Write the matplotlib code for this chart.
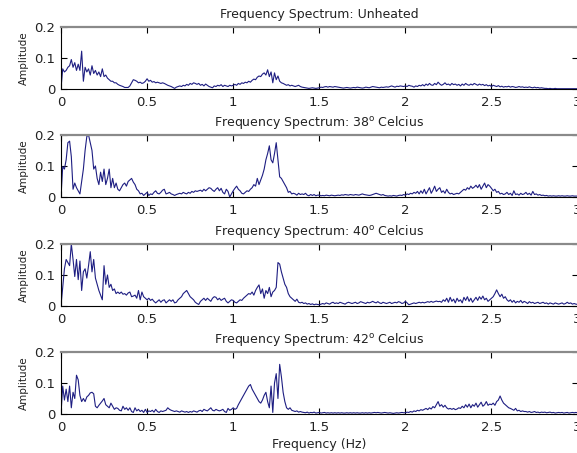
import numpy as np
import matplotlib
matplotlib.use("Agg")
import matplotlib.pyplot as plt

plt.rcParams["font.family"] = ["DejaVu Sans"]
plt.rcParams["mathtext.fontset"] = "dejavusans"

# frequency grid, 0 .. 3 Hz in 0.01 Hz steps
freq = np.round(np.arange(301) * 0.01, 2)

titles = [
    "Frequency Spectrum: Unheated",
    r"Frequency Spectrum: 38$^{\mathrm{o}}$ Celcius",
    r"Frequency Spectrum: 40$^{\mathrm{o}}$ Celcius",
    r"Frequency Spectrum: 42$^{\mathrm{o}}$ Celcius",
]

amp_unheated = [
    0.000, 0.065, 0.055, 0.060, 0.070, 0.075, 0.095, 0.070, 0.085, 0.060,
    0.080, 0.060, 0.122, 0.025, 0.070, 0.055, 0.065, 0.045, 0.075, 0.050,
    0.060, 0.045, 0.055, 0.040, 0.065, 0.040, 0.045, 0.035, 0.030, 0.025,
    0.025, 0.020, 0.020, 0.015, 0.012, 0.010, 0.008, 0.005, 0.005, 0.005,
    0.010, 0.020, 0.030, 0.028, 0.025, 0.020, 0.022, 0.018, 0.020, 0.025,
    0.033, 0.025, 0.028, 0.022, 0.024, 0.020, 0.022, 0.020, 0.018, 0.020,
    0.018, 0.015, 0.012, 0.010, 0.008, 0.005, 0.002, 0.006, 0.008, 0.010,
    0.008, 0.012, 0.010, 0.015, 0.012, 0.018, 0.015, 0.020, 0.018, 0.015,
    0.018, 0.012, 0.015, 0.010, 0.016, 0.012, 0.008, 0.006, 0.004, 0.010,
    0.008, 0.012, 0.010, 0.014, 0.008, 0.012, 0.010, 0.008, 0.012, 0.010,
    0.012, 0.015, 0.012, 0.018, 0.015, 0.020, 0.018, 0.022, 0.020, 0.025,
    0.022, 0.028, 0.032, 0.030, 0.038, 0.042, 0.040, 0.048, 0.052, 0.045,
    0.062, 0.040, 0.055, 0.020, 0.052, 0.030, 0.042, 0.025, 0.020, 0.018,
    0.015, 0.012, 0.014, 0.010, 0.012, 0.010, 0.008, 0.010, 0.012, 0.008,
    0.006, 0.005, 0.004, 0.003, 0.002, 0.003, 0.004, 0.003, 0.002, 0.003,
    0.004, 0.006, 0.005, 0.007, 0.008, 0.006, 0.008, 0.007, 0.006, 0.008,
    0.007, 0.006, 0.005, 0.004, 0.003, 0.004, 0.005, 0.004, 0.003, 0.004,
    0.005, 0.004, 0.006, 0.005, 0.004, 0.003, 0.004, 0.006, 0.005, 0.004,
    0.006, 0.008, 0.007, 0.006, 0.005, 0.004, 0.006, 0.005, 0.006, 0.007,
    0.006, 0.008, 0.010, 0.008, 0.006, 0.009, 0.008, 0.010, 0.009, 0.008,
    0.010, 0.008, 0.012, 0.010, 0.009, 0.006, 0.010, 0.008, 0.012, 0.010,
    0.014, 0.010, 0.016, 0.012, 0.018, 0.013, 0.012, 0.018, 0.014, 0.022,
    0.016, 0.012, 0.015, 0.020, 0.014, 0.016, 0.012, 0.018, 0.014, 0.016,
    0.012, 0.015, 0.010, 0.016, 0.012, 0.018, 0.014, 0.012, 0.016, 0.013,
    0.018, 0.015, 0.012, 0.016, 0.013, 0.015, 0.011, 0.014, 0.010, 0.012,
    0.008, 0.012, 0.010, 0.008, 0.011, 0.007, 0.009, 0.006, 0.008, 0.007,
    0.009, 0.006, 0.008, 0.007, 0.005, 0.006, 0.008, 0.006, 0.007, 0.005,
    0.006, 0.005, 0.007, 0.005, 0.004, 0.006, 0.004, 0.005, 0.003, 0.004,
    0.003, 0.002, 0.002, 0.001, 0.002, 0.001, 0.001, 0.002, 0.001, 0.001,
    0.001, 0.001, 0.001, 0.001, 0.001, 0.001, 0.001, 0.001, 0.001, 0.001,
    0.001,
]

amp_38c = [
    0.000, 0.098, 0.090, 0.120, 0.175, 0.180, 0.130, 0.025, 0.045, 0.030,
    0.020, 0.010, 0.050, 0.090, 0.150, 0.195, 0.200, 0.175, 0.150, 0.090,
    0.100, 0.060, 0.040, 0.080, 0.050, 0.090, 0.040, 0.060, 0.090, 0.030,
    0.060, 0.030, 0.045, 0.025, 0.020, 0.030, 0.040, 0.045, 0.035, 0.050,
    0.055, 0.060, 0.048, 0.040, 0.025, 0.020, 0.010, 0.012, 0.005, 0.010,
    0.015, 0.005, 0.010, 0.008, 0.015, 0.020, 0.012, 0.010, 0.015, 0.022,
    0.025, 0.010, 0.012, 0.015, 0.010, 0.008, 0.005, 0.008, 0.010, 0.012,
    0.010, 0.015, 0.012, 0.010, 0.015, 0.012, 0.018, 0.015, 0.020, 0.018,
    0.020, 0.022, 0.018, 0.025, 0.020, 0.025, 0.030, 0.028, 0.022, 0.018,
    0.025, 0.030, 0.020, 0.028, 0.015, 0.010, 0.025, 0.018, 0.000, 0.010,
    0.020, 0.028, 0.035, 0.025, 0.020, 0.012, 0.010, 0.015, 0.020, 0.018,
    0.025, 0.030, 0.040, 0.035, 0.060, 0.040, 0.055, 0.070, 0.090, 0.120,
    0.140, 0.165, 0.120, 0.110, 0.140, 0.175, 0.120, 0.065, 0.060, 0.050,
    0.040, 0.030, 0.015, 0.018, 0.010, 0.012, 0.010, 0.006, 0.012, 0.008,
    0.010, 0.008, 0.012, 0.006, 0.004, 0.008, 0.005, 0.008, 0.004, 0.006,
    0.006, 0.004, 0.005, 0.004, 0.006, 0.005, 0.004, 0.006, 0.005, 0.004,
    0.005, 0.006, 0.005, 0.007, 0.006, 0.008, 0.007, 0.006, 0.008, 0.007,
    0.006, 0.008, 0.007, 0.006, 0.008, 0.010, 0.008, 0.007, 0.006, 0.005,
    0.006, 0.008, 0.010, 0.012, 0.010, 0.008, 0.006, 0.008, 0.005, 0.004,
    0.003, 0.004, 0.003, 0.005, 0.004, 0.003, 0.005, 0.006, 0.005, 0.008,
    0.006, 0.010, 0.008, 0.012, 0.010, 0.015, 0.012, 0.018, 0.010, 0.020,
    0.012, 0.025, 0.010, 0.020, 0.030, 0.012, 0.022, 0.035, 0.018, 0.025,
    0.030, 0.015, 0.020, 0.012, 0.025, 0.015, 0.010, 0.012, 0.008, 0.010,
    0.012, 0.010, 0.015, 0.020, 0.025, 0.022, 0.030, 0.025, 0.035, 0.028,
    0.032, 0.038, 0.030, 0.040, 0.025, 0.035, 0.045, 0.030, 0.040, 0.035,
    0.028, 0.020, 0.025, 0.015, 0.018, 0.010, 0.012, 0.008, 0.010, 0.015,
    0.008, 0.012, 0.005, 0.020, 0.008, 0.010, 0.006, 0.012, 0.008, 0.010,
    0.015, 0.008, 0.012, 0.006, 0.018, 0.008, 0.010, 0.006, 0.008, 0.005,
    0.006, 0.004, 0.005, 0.003, 0.004, 0.003, 0.004, 0.003, 0.003, 0.004,
    0.003, 0.004, 0.003, 0.003, 0.004, 0.003, 0.003, 0.004, 0.003, 0.003,
    0.003,
]

amp_40c = [
    0.000, 0.060, 0.120, 0.150, 0.140, 0.130, 0.200, 0.150, 0.095, 0.150,
    0.085, 0.145, 0.050, 0.110, 0.120, 0.090, 0.130, 0.175, 0.110, 0.150,
    0.090, 0.070, 0.050, 0.035, 0.020, 0.130, 0.070, 0.100, 0.060, 0.070,
    0.050, 0.055, 0.040, 0.045, 0.040, 0.045, 0.038, 0.040, 0.035, 0.042,
    0.045, 0.030, 0.032, 0.035, 0.025, 0.050, 0.020, 0.045, 0.030, 0.025,
    0.020, 0.025, 0.018, 0.022, 0.015, 0.010, 0.015, 0.020, 0.012, 0.018,
    0.020, 0.010, 0.015, 0.020, 0.015, 0.020, 0.010, 0.012, 0.020, 0.025,
    0.030, 0.040, 0.045, 0.050, 0.040, 0.030, 0.025, 0.020, 0.012, 0.008,
    0.005, 0.015, 0.020, 0.025, 0.018, 0.025, 0.020, 0.015, 0.025, 0.030,
    0.028, 0.020, 0.025, 0.018, 0.022, 0.025, 0.015, 0.010, 0.015, 0.020,
    0.018, 0.012, 0.010, 0.015, 0.020, 0.018, 0.025, 0.030, 0.035, 0.040,
    0.038, 0.045, 0.035, 0.050, 0.060, 0.068, 0.040, 0.055, 0.025, 0.050,
    0.040, 0.060, 0.030, 0.045, 0.050, 0.060, 0.140, 0.135, 0.110, 0.090,
    0.070, 0.060, 0.040, 0.030, 0.025, 0.020, 0.015, 0.022, 0.012, 0.010,
    0.012, 0.008, 0.010, 0.006, 0.008, 0.005, 0.007, 0.004, 0.006, 0.005,
    0.004, 0.006, 0.008, 0.006, 0.010, 0.008, 0.006, 0.010, 0.012, 0.008,
    0.010, 0.008, 0.012, 0.010, 0.008, 0.006, 0.010, 0.012, 0.010, 0.008,
    0.010, 0.012, 0.008, 0.010, 0.014, 0.012, 0.010, 0.008, 0.012, 0.010,
    0.012, 0.015, 0.012, 0.010, 0.014, 0.010, 0.008, 0.012, 0.010, 0.008,
    0.010, 0.012, 0.008, 0.010, 0.012, 0.010, 0.014, 0.012, 0.008, 0.010,
    0.015, 0.010, 0.004, 0.006, 0.008, 0.010, 0.008, 0.010, 0.012, 0.010,
    0.012, 0.010, 0.012, 0.014, 0.012, 0.015, 0.012, 0.014, 0.016, 0.014,
    0.015, 0.012, 0.020, 0.015, 0.025, 0.012, 0.028, 0.015, 0.022, 0.010,
    0.025, 0.015, 0.020, 0.010, 0.028, 0.018, 0.030, 0.015, 0.025, 0.012,
    0.020, 0.028, 0.018, 0.030, 0.022, 0.032, 0.020, 0.025, 0.015, 0.020,
    0.025, 0.030, 0.040, 0.052, 0.040, 0.030, 0.038, 0.025, 0.030, 0.020,
    0.015, 0.020, 0.012, 0.018, 0.010, 0.015, 0.012, 0.018, 0.010, 0.015,
    0.012, 0.008, 0.014, 0.010, 0.012, 0.008, 0.010, 0.012, 0.008, 0.010,
    0.012, 0.008, 0.010, 0.006, 0.010, 0.008, 0.006, 0.010, 0.008, 0.006,
    0.008, 0.010, 0.006, 0.008, 0.012, 0.008, 0.010, 0.006, 0.008, 0.006,
    0.005,
]

amp_42c = [
    0.000, 0.090, 0.045, 0.080, 0.040, 0.090, 0.020, 0.070, 0.050, 0.125,
    0.110, 0.060, 0.040, 0.050, 0.040, 0.055, 0.060, 0.068, 0.070, 0.065,
    0.025, 0.020, 0.028, 0.035, 0.042, 0.050, 0.030, 0.025, 0.020, 0.035,
    0.025, 0.015, 0.020, 0.018, 0.012, 0.010, 0.025, 0.015, 0.020, 0.012,
    0.020, 0.008, 0.005, 0.020, 0.010, 0.015, 0.008, 0.012, 0.005, 0.015,
    0.005, 0.010, 0.008, 0.012, 0.006, 0.015, 0.008, 0.005, 0.010, 0.008,
    0.010, 0.012, 0.020, 0.015, 0.012, 0.010, 0.008, 0.010, 0.008, 0.006,
    0.010, 0.008, 0.006, 0.008, 0.005, 0.008, 0.006, 0.010, 0.008, 0.006,
    0.010, 0.012, 0.008, 0.015, 0.012, 0.010, 0.015, 0.020, 0.012, 0.010,
    0.015, 0.012, 0.010, 0.012, 0.015, 0.008, 0.005, 0.018, 0.012, 0.015,
    0.020, 0.015, 0.018, 0.030, 0.040, 0.050, 0.060, 0.070, 0.080, 0.090,
    0.095, 0.080, 0.070, 0.060, 0.050, 0.040, 0.035, 0.045, 0.060, 0.070,
    0.040, 0.020, 0.090, 0.005, 0.100, 0.130, 0.050, 0.160, 0.120, 0.070,
    0.040, 0.020, 0.015, 0.020, 0.012, 0.010, 0.008, 0.010, 0.006, 0.008,
    0.006, 0.005, 0.004, 0.006, 0.003, 0.005, 0.004, 0.006, 0.003, 0.004,
    0.005, 0.003, 0.004, 0.005, 0.003, 0.004, 0.003, 0.004, 0.003, 0.004,
    0.003, 0.004, 0.003, 0.004, 0.003, 0.003, 0.004, 0.003, 0.004, 0.003,
    0.004, 0.003, 0.004, 0.003, 0.003, 0.004, 0.003, 0.004, 0.003, 0.004,
    0.003, 0.004, 0.005, 0.004, 0.005, 0.004, 0.003, 0.004, 0.005, 0.004,
    0.003, 0.004, 0.003, 0.002, 0.003, 0.004, 0.003, 0.004, 0.005, 0.004,
    0.004, 0.006, 0.005, 0.008, 0.006, 0.010, 0.008, 0.012, 0.010, 0.014,
    0.012, 0.015, 0.018, 0.014, 0.020, 0.016, 0.024, 0.020, 0.030, 0.040,
    0.025, 0.030, 0.022, 0.028, 0.020, 0.016, 0.018, 0.015, 0.018, 0.014,
    0.016, 0.020, 0.018, 0.025, 0.020, 0.030, 0.022, 0.032, 0.020, 0.030,
    0.025, 0.035, 0.022, 0.030, 0.038, 0.025, 0.030, 0.040, 0.028, 0.032,
    0.030, 0.035, 0.028, 0.040, 0.045, 0.058, 0.045, 0.035, 0.030, 0.025,
    0.020, 0.018, 0.015, 0.012, 0.018, 0.010, 0.012, 0.008, 0.010, 0.008,
    0.008, 0.006, 0.008, 0.005, 0.006, 0.008, 0.005, 0.006, 0.004, 0.006,
    0.005, 0.006, 0.004, 0.005, 0.006, 0.004, 0.005, 0.003, 0.004, 0.005,
    0.004, 0.005, 0.003, 0.004, 0.005, 0.003, 0.004, 0.005, 0.004, 0.005,
    0.004,
]

series = [amp_unheated, amp_38c, amp_40c, amp_42c]

xticks = [0, 0.5, 1, 1.5, 2, 2.5, 3]
xticklabels = ["0", "0.5", "1", "1.5", "2", "2.5", "3"]
yticks = [0, 0.1, 0.2]
yticklabels = ["0", "0.1", "0.2"]

line_color = "#1e1e82"
text_color = "#222222"

fig = plt.figure(figsize=(5.77, 4.53), dpi=100)
fig.patch.set_facecolor("white")

# four stacked panels, bottom edges in figure fractions
bottoms = [0.8035, 0.5651, 0.3245, 0.0861]
height = 0.137
left = 0.1057
width = 0.8953

for i, (title, amp) in enumerate(zip(titles, series)):
    ax = fig.add_axes([left, bottoms[i], width, height])
    ax.plot(freq, amp, color=line_color, lw=0.8)
    ax.set_xlim(0, 3)
    ax.set_ylim(0, 0.2)
    ax.set_xticks(xticks)
    ax.set_xticklabels(xticklabels)
    ax.set_yticks(yticks)
    ax.set_yticklabels(yticklabels)
    ax.tick_params(direction="in", length=4, width=0.8, top=True, right=True,
                   labelsize=9.5, pad=5, colors="black", labelcolor=text_color)
    ax.tick_params(axis="y", pad=4)
    for side in ("left", "bottom"):
        ax.spines[side].set_color("black")
        ax.spines[side].set_linewidth(0.8)
    ax.spines["top"].set_color("#8a8a8a")
    ax.spines["top"].set_linewidth(1.6)
    ax.spines["right"].set_color("#8a8a8a")
    ax.set_title(title, fontsize=9, color=text_color, pad=6.5)
    ax.set_ylabel("Amplitude", fontsize=7.5, color=text_color, labelpad=4)
    if i == 3:
        ax.set_xlabel("Frequency (Hz)", fontsize=9, color=text_color, labelpad=3)

fig.savefig("out.png", dpi=100)
